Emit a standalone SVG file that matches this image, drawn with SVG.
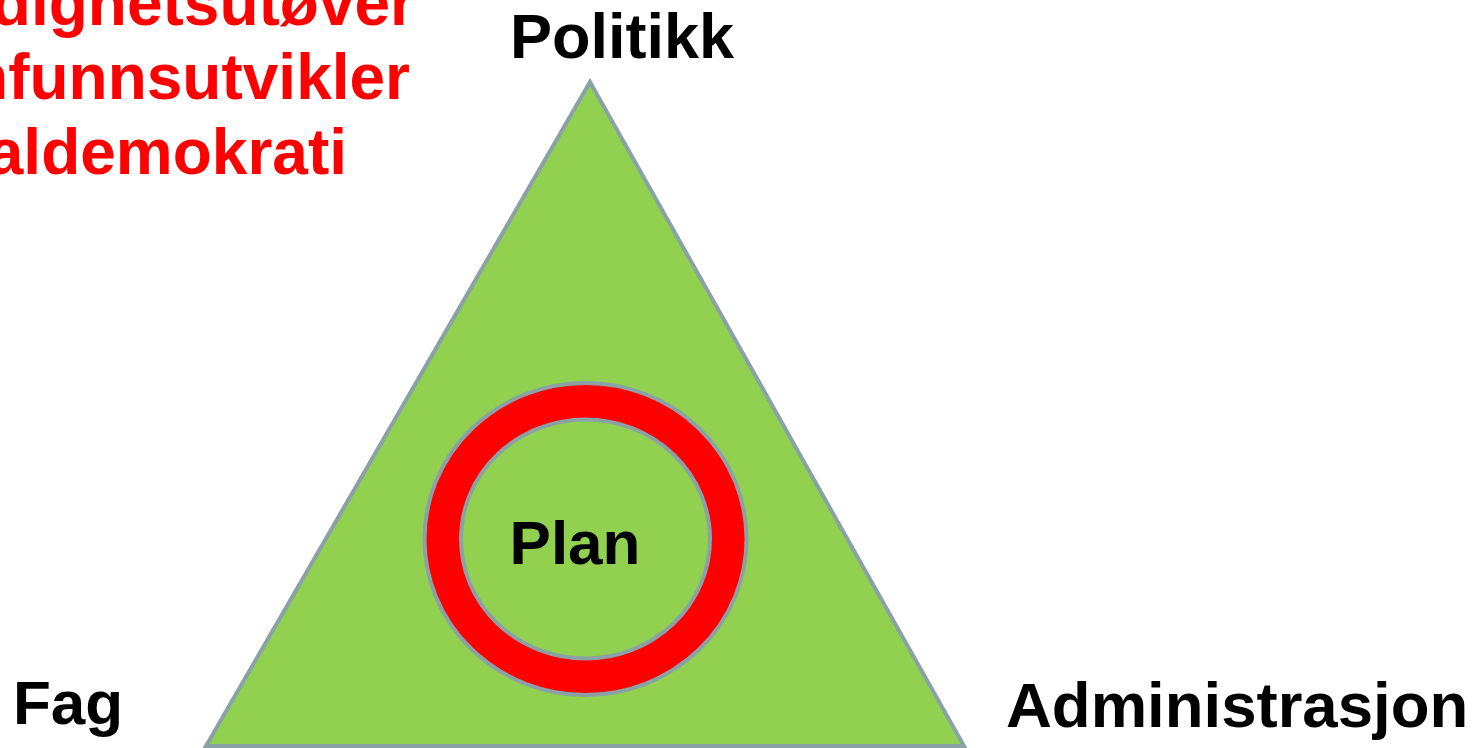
<svg xmlns="http://www.w3.org/2000/svg" width="1482" height="748" viewBox="0 0 1482 748">
  <style>
    .lbl { font-family: "Liberation Sans", Arial, sans-serif; font-weight: bold; fill: #000000; }
    .red { font-family: "Liberation Sans", Arial, sans-serif; font-weight: bold; fill: #ff0000; font-size: 64px; text-anchor: end; }
    .edge { stroke: #8aa2a6; stroke-width: 4; }
  </style>
  <rect width="1482" height="748" fill="#ffffff"/>
  <g id="roles">
    <text class="red" x="415" y="25">Myndighetsutøver</text>
    <text class="red" x="410" y="99">Samfunnsutvikler</text>
    <text class="red" x="347" y="174">Lokaldemokrati</text>
  </g>
  <g id="triangle">
    <polygon class="edge" points="590,82 206,746 964,746" fill="#92d050"/>
  </g>
  <g id="ring">
    <ellipse class="edge" cx="585.5" cy="539" rx="161" ry="156" fill="#ff0000" stroke-width="4.5"/>
    <ellipse class="edge" cx="585.5" cy="539" rx="124.5" ry="119.5" fill="#92d050" stroke-width="4.5"/>
  </g>
  <g id="plan"><text class="lbl" x="575" y="564" font-size="62" text-anchor="middle">Plan</text></g>
  <g id="politikk"><text class="lbl" x="622" y="58" font-size="63" text-anchor="middle">Politikk</text></g>
  <g id="fag"><text class="lbl" x="13" y="724" font-size="62">Fag</text></g>
  <g id="administrasjon"><text class="lbl" x="1006" y="727" font-size="63.5">Administrasjon</text></g>
</svg>
